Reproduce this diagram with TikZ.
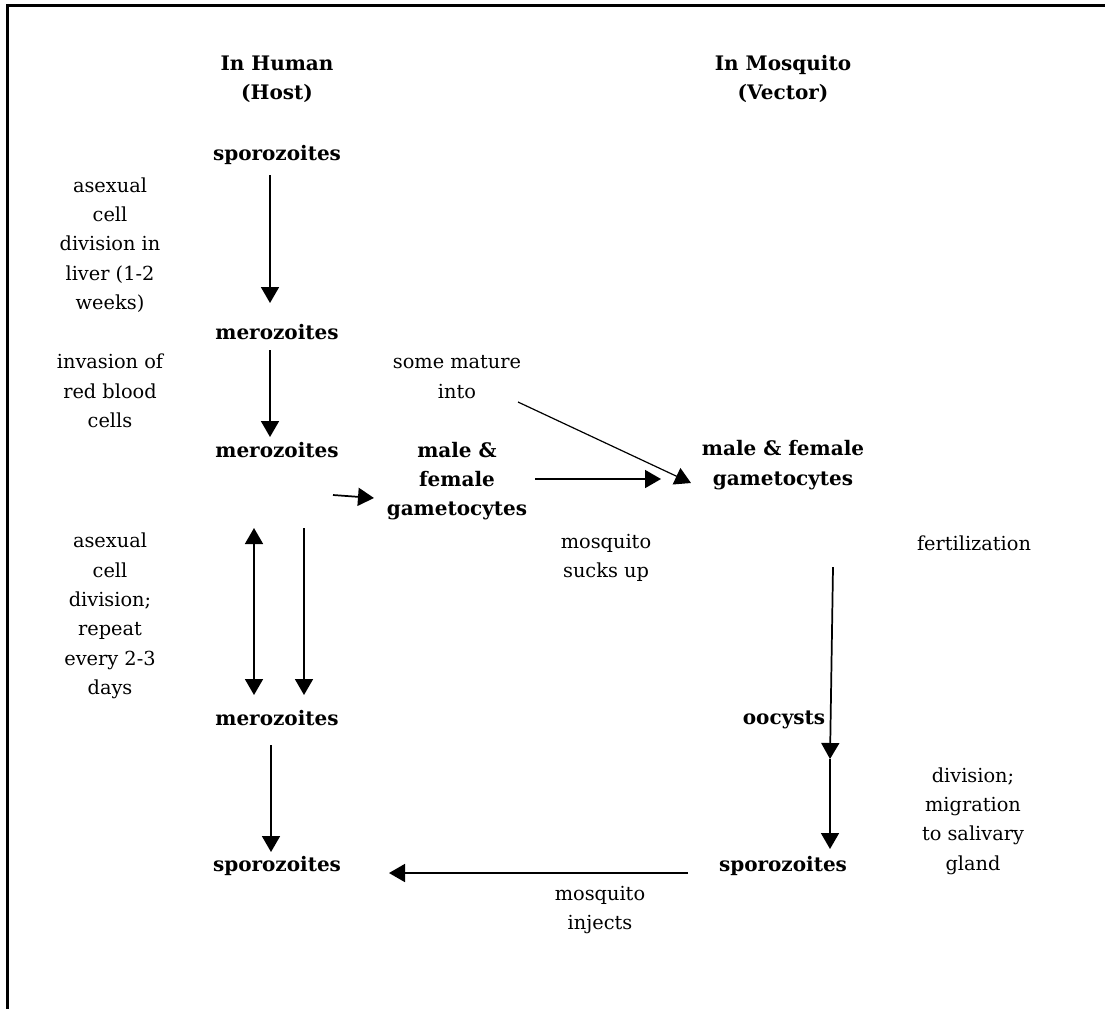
\documentclass[tikz,border=0pt]{standalone}
\usepackage{fontspec}
\setmainfont{DejaVu Serif}
\usetikzlibrary{arrows.meta}
\tikzset{
  lbl/.style={align=center, inner sep=0pt, font=\fontsize{14.5pt}{22pt}\selectfont},
  bl/.style={align=center, inner sep=0pt, font=\fontsize{15pt}{22pt}\selectfont\bfseries},
  tip/.style={Triangle[length=12pt,width=13.5pt]},
  arr/.style={line width=1.3pt, -{Triangle[length=12pt,width=13.5pt]}},
  darr/.style={line width=1.3pt, {Triangle[length=12pt,width=13.5pt]}-{Triangle[length=12pt,width=13.5pt]}},
  thinarr/.style={line width=0.9pt, -{Triangle[length=12pt,width=13.5pt]}},
  frame/.style={line width=2.8pt}
}
\begin{document}
\begin{tikzpicture}[x=0.75pt,y=-0.75pt]
\useasboundingbox (0,0) rectangle (1105,1008);
% frame
\coordinate (fbl) at (7.5,1012);
\coordinate (ftl) at (7.5,5.5);
\coordinate (ftr) at (1110,5.5);
\draw[frame] (fbl) -- (ftl) -- (ftr);
% headings
\node[bl] (hHuman) at (277,79) {In Human\\(Host)};
\node[bl] (hMosq) at (783,79) {In Mosquito\\(Vector)};
% human column
\node[bl] (sp1) at (277,155) {sporozoites};
\node[lbl] (lab1) at (110,245) {asexual\\cell\\division in\\liver (1-2\\weeks)};
\node[bl] (mz1) at (277,332) {merozoites};
\node[lbl] (lab2) at (110,391) {invasion of\\red blood\\cells};
\node[bl] (mz2) at (277,450) {merozoites};
\node[lbl] (lab3) at (457,377) {some mature\\into};
\node[bl] (gam1) at (457,481) {male \&\\female\\gametocytes};
\node[bl] (gam2) at (783,465) {male \& female\\gametocytes};
\node[lbl] (lab4) at (606,558) {mosquito\\sucks up};
\node[lbl] (lab5) at (974,543) {fertilization};
\node[lbl] (lab6) at (110,616) {asexual\\cell\\division;\\repeat\\every 2-3\\days};
\node[bl] (mz3) at (277,718) {merozoites};
\node[bl] (oo) at (784,720) {oocysts};
\node[lbl] (lab7) at (973,821) {division;\\migration\\to salivary\\gland};
\node[bl] (sp2) at (277,866) {sporozoites};
\node[bl] (sp3) at (783,866) {sporozoites};
\node[lbl] (lab8) at (600,910) {mosquito\\injects};
% connector end points
\coordinate (a1s) at (270,175);  \coordinate (a1e) at (270,303);
\coordinate (a2s) at (270,350);  \coordinate (a2e) at (270,437);
\coordinate (a3s) at (518,402);  \coordinate (a3e) at (691,483);
\coordinate (a4s) at (333,495);  \coordinate (a4e) at (374,498);
\coordinate (a5s) at (535,479);  \coordinate (a5e) at (661,479);
\coordinate (a6s) at (254,528);  \coordinate (a6e) at (254,695);
\coordinate (a7s) at (304,528);  \coordinate (a7e) at (304,695);
\coordinate (a8s) at (833,567);  \coordinate (a8e) at (830,759);
\coordinate (a9e) at (830,849);
\coordinate (a10s) at (271,745); \coordinate (a10e) at (271,852);
\coordinate (a11s) at (688,873); \coordinate (a11e) at (389,873);
% connectors
\draw[arr] (a1s) -- (a1e);
\draw[arr] (a2s) -- (a2e);
\draw[thinarr] (a3s) -- (a3e);
\draw[arr] (a4s) -- (a4e);
\draw[arr] (a5s) -- (a5e);
\draw[darr] (a6s) -- (a6e);
\draw[arr] (a7s) -- (a7e);
\draw[arr] (a8s) -- (a8e);
\draw[arr] (a8e) -- (a9e);
\draw[arr] (a10s) -- (a10e);
\draw[arr] (a11s) -- (a11e);
\end{tikzpicture}
\end{document}
